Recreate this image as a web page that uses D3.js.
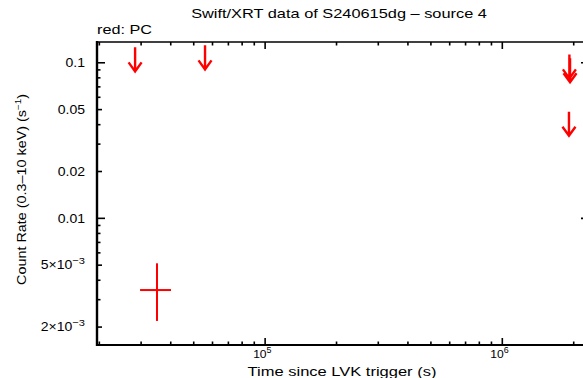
<!DOCTYPE html>
<html>
<head>
<meta charset="utf-8">
<script src="https://cdnjs.cloudflare.com/ajax/libs/d3/7.8.5/d3.min.js"></script>
<style>
  html, body { margin: 0; padding: 0; background: #fff; }
  svg { display: block; }
  text { font-family: "Liberation Sans", Arial, Helvetica, sans-serif; fill: #000; }
</style>
</head>
<body>
<svg id="chart" width="583" height="378"></svg>
<script>
// Swift/XRT PC-mode light curve of S240615dg, source 4
const detTime = [35000];
const detTimeLo = [29700];
const detTimeHi = [40100];
const detRate = [3.46e-3];
const detRateLo = [2.19e-3];
const detRateHi = [5.14e-3];

// 3-sigma upper limits (count rate, s^-1)
const ulTime = [28300, 55800, 1.918e6, 1.93e6, 1.91e6];
const ulRate = [0.1256, 0.1294, 0.1132, 0.107, 0.0484];

const yTickValues = [0.1, 0.05, 0.02, 0.01, 5e-3, 2e-3];
const yTickLabels = [["0.1"], ["0.05"], ["0.02"], ["0.01"], ["5×10", "−3"], ["2×10", "−3"]];
const xTickValues = [1e5, 1e6];
const xTickLabels = [["10", "5"], ["10", "6"]];

const xDomain = [19550, 2.32e6];
const yDomain = [1.534e-3, 0.136];

const m = { left: 97, right: 589, top: 42, bottom: 345 };
const svg = d3.select("#chart");

const x = d3.scaleLog().domain(xDomain).range([m.left, m.right]);
const y = d3.scaleLog().domain(yDomain).range([m.bottom, m.top]);

const red = "#ff0000";

// text drawn with a horizontal stretch (wide plotting font)
function wideText(px, py, sx, size, anchor, rot) {
  const g = svg.append("g")
    .attr("transform", `translate(${px},${py})${rot ? ` rotate(${rot})` : ""} scale(${sx},1)`);
  return g.append("text").attr("x", 0).attr("y", 0)
    .attr("text-anchor", anchor).attr("font-size", size);
}

// minor tick values across the domains
function logMinor(domain) {
  const out = [];
  const lo = Math.floor(Math.log10(domain[0])), hi = Math.ceil(Math.log10(domain[1]));
  for (let e = lo; e <= hi; e++) {
    for (let k = 1; k <= 9; k++) {
      const v = k * Math.pow(10, e);
      if (v >= domain[0] && v <= domain[1]) out.push(v);
    }
  }
  return out;
}
const isDecade = v => Math.abs(Math.log10(v) - Math.round(Math.log10(v))) < 1e-9;

const xMinor = logMinor(xDomain);
const yMinor = logMinor(yDomain);
const yLabelled = v => yTickValues.some(t => Math.abs(t - v) / t < 1e-6);

// ticks: bottom & top
const axisG = svg.append("g").attr("stroke", "#000");
xMinor.forEach(v => {
  const len = isDecade(v) ? 7 : 3.5;
  const px = x(v);
  axisG.append("line").attr("x1", px).attr("x2", px)
    .attr("y1", m.bottom).attr("y2", m.bottom - len).attr("stroke-width", 1.6);
  axisG.append("line").attr("x1", px).attr("x2", px)
    .attr("y1", m.top).attr("y2", m.top + len).attr("stroke-width", 1.6);
});
// ticks: left & right
yMinor.forEach(v => {
  const len = isDecade(v) ? 8 : (yLabelled(v) ? 5 : 3.5);
  const py = y(v);
  axisG.append("line").attr("x1", m.left).attr("x2", m.left + len)
    .attr("y1", py).attr("y2", py).attr("stroke-width", 1.6);
  axisG.append("line").attr("x1", m.right).attr("x2", m.right - len)
    .attr("y1", py).attr("y2", py).attr("stroke-width", 1.6);
});

// frame
axisG.append("line").attr("x1", m.left).attr("x2", m.right).attr("y1", m.top).attr("y2", m.top).attr("stroke-width", 1.5);
axisG.append("line").attr("x1", m.left).attr("x2", m.right).attr("y1", m.bottom).attr("y2", m.bottom).attr("stroke-width", 2.2);
axisG.append("line").attr("x1", m.left).attr("x2", m.left).attr("y1", m.top - 1).attr("y2", m.bottom + 1).attr("stroke-width", 2.4);
axisG.append("line").attr("x1", m.right).attr("x2", m.right).attr("y1", m.top).attr("y2", m.bottom).attr("stroke-width", 2);

// y tick labels
yTickValues.forEach((v, i) => {
  const lab = yTickLabels[i];
  const t = wideText(85, y(v) + 4.3, 1.17, 12, "end");
  if (lab.length === 1) {
    t.text(lab[0]);
  } else {
    t.append("tspan").text(lab[0]);
    t.append("tspan").attr("dy", -5).attr("font-size", 9.5).text(lab[1]);
  }
});

// x tick labels
xTickValues.forEach((v, i) => {
  const lab = xTickLabels[i];
  const t = wideText(x(v) - 12, 358, 1.05, 11.5, "start");
  t.append("tspan").text(lab[0]);
  t.append("tspan").attr("dy", -5).attr("font-size", 8.5).text(lab[1]);
});

// titles
wideText(339, 18, 1.31, 12.5, "middle").text("Swift/XRT data of S240615dg – source 4");
wideText(m.left, 34, 1.3, 12.5, "start").text("red: PC");
wideText(342, 376, 1.27, 13, "middle").text("Time since LVK trigger (s)");

const yl = wideText(26, (m.top + m.bottom) / 2 - 4, 1.15, 12.5, "middle", -90);
yl.append("tspan").text("Count Rate (0.3–10 keV) (s");
yl.append("tspan").attr("dy", -5).attr("font-size", 8.5).text("−1");
yl.append("tspan").attr("dy", 5).text(")");

// detections with error bars
const dataG = svg.append("g").attr("stroke", red).attr("stroke-width", 2).attr("fill", "none");
detTime.forEach((t, i) => {
  dataG.append("line").attr("x1", x(detTimeLo[i])).attr("x2", x(detTimeHi[i]))
    .attr("y1", y(detRate[i])).attr("y2", y(detRate[i]));
  dataG.append("line").attr("x1", x(t)).attr("x2", x(t))
    .attr("y1", y(detRateLo[i])).attr("y2", y(detRateHi[i]));
});

// upper-limit arrows
const arrowLen = 24, headW = 6.5, headH = 9;
ulTime.forEach((t, i) => {
  const px = x(t), py = y(ulRate[i]);
  const tip = py + arrowLen;
  dataG.append("path")
    .attr("d", `M${px},${py}L${px},${tip}M${px - headW},${tip - headH}L${px},${tip}L${px + headW},${tip - headH}`)
    .attr("stroke-width", 2.4).attr("stroke-linejoin", "miter");
});
</script>
</body>
</html>
